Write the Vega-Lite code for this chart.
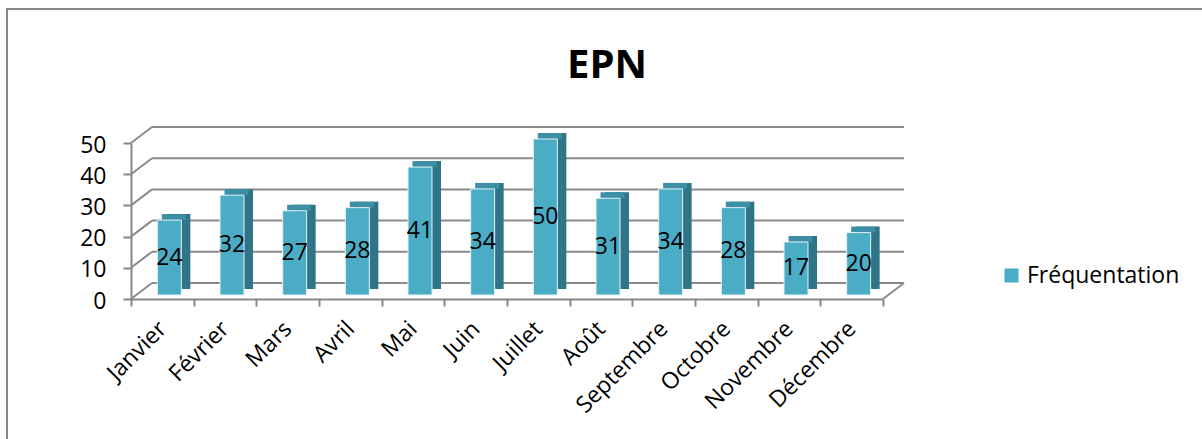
{
  "$schema": "https://vega.github.io/schema/vega-lite/v6.json",
  "width": 1200,
  "height": 435,
  "autosize": "none",
  "padding": {"left": 7, "top": 9, "right": 0, "bottom": 0},
  "background": "white",
  "config": {"view": {"stroke": "#878787", "strokeWidth": 2}, "font": "Open Sans"},
  "title": {"text": "EPN", "fontSize": 40, "fontWeight": "bold", "font": "Open Sans", "color": "#000000", "anchor": "middle", "frame": "group", "baseline": "alphabetic", "offset": -109},
  "data": {"values": [
    {"mois": "Janvier", "valeur": 24},
    {"mois": "Février", "valeur": 32},
    {"mois": "Mars", "valeur": 27},
    {"mois": "Avril", "valeur": 28},
    {"mois": "Mai", "valeur": 41},
    {"mois": "Juin", "valeur": 34},
    {"mois": "Juillet", "valeur": 50},
    {"mois": "Août", "valeur": 31},
    {"mois": "Septembre", "valeur": 34},
    {"mois": "Octobre", "valeur": 28},
    {"mois": "Novembre", "valeur": 17},
    {"mois": "Décembre", "valeur": 20}
  ]},
  "layer": [
    {
      "data": {"values": [{"g": 0}, {"g": 10}, {"g": 20}, {"g": 30}, {"g": 40}, {"g": 50}]},
      "mark": {"type": "rule", "color": "#8a8a8a", "strokeWidth": 2, "xOffset": 21, "x2Offset": 21, "yOffset": -16},
      "encoding": {
        "x": {"datum": "Janvier", "type": "nominal", "bandPosition": 0, "scale": {"domain": ["Janvier","Février","Mars","Avril","Mai","Juin","Juillet","Août","Septembre","Octobre","Novembre","Décembre"], "range": [124, 876], "paddingInner": 0, "paddingOuter": 0}},
        "x2": {"datum": "Décembre", "bandPosition": 1},
        "y": {"field": "g", "type": "quantitative", "scale": {"domain": [0, 50], "range": [290, 134]}, "axis": null}
      }
    },
    {
      "data": {"values": [{"g": 0}, {"g": 10}, {"g": 20}, {"g": 30}, {"g": 40}, {"g": 50}]},
      "mark": {"type": "rule", "color": "#8a8a8a", "strokeWidth": 2, "x2Offset": 21, "y2Offset": -16},
      "encoding": {
        "x": {"datum": "Janvier", "type": "nominal", "bandPosition": 0},
        "x2": {"datum": "Janvier", "bandPosition": 0},
        "y": {"field": "g", "type": "quantitative", "scale": {"domain": [0, 50], "range": [290, 134]}, "axis": null},
        "y2": {"field": "g"}
      }
    },
    {
      "data": {"values": [{"g": 0}]},
      "mark": {"type": "rule", "color": "#8a8a8a", "strokeWidth": 2, "x2Offset": 21, "y2Offset": -16},
      "encoding": {
        "x": {"datum": "Décembre", "type": "nominal", "bandPosition": 1},
        "x2": {"datum": "Décembre", "bandPosition": 1},
        "y": {"field": "g", "type": "quantitative", "scale": {"domain": [0, 50], "range": [290, 134]}, "axis": null},
        "y2": {"field": "g"}
      }
    },
    {
      "mark": {"type": "bar", "color": "#2F7487", "width": 24, "xOffset": 16, "yOffset": -10, "y2Offset": -10},
      "encoding": {
        "x": {"field": "mois", "type": "nominal"},
        "y": {"field": "valeur", "type": "quantitative", "scale": {"domain": [0, 50], "range": [290, 134]}, "axis": null},
        "y2": {"datum": 0}
      }
    },
    {
      "mark": {"type": "bar", "color": "#3D8FA5", "width": 24, "xOffset": 11.5, "yOffset": -10, "y2Offset": -4},
      "encoding": {
        "x": {"field": "mois", "type": "nominal"},
        "y": {"field": "valeur", "type": "quantitative", "scale": {"domain": [0, 50], "range": [290, 134]}, "axis": null},
        "y2": {"field": "valeur"}
      }
    },
    {
      "mark": {"type": "bar", "width": 24, "xOffset": 7, "yOffset": -4, "y2Offset": -4, "stroke": "#e4f2f6", "strokeWidth": 1},
      "encoding": {
        "x": {"field": "mois", "type": "nominal", "axis": {"title": null, "labelAngle": -45, "labelFontSize": 23, "labelColor": "#000000", "labelFont": "Open Sans", "domainColor": "#878787", "domainWidth": 2, "tickColor": "#878787", "tickWidth": 2, "tickSize": 7, "tickBand": "extent", "offset": -145, "labelPadding": 19, "grid": false}},
        "y": {"field": "valeur", "type": "quantitative", "scale": {"domain": [0, 50], "range": [290, 134]}, "axis": {"title": null, "values": [0, 10, 20, 30, 40, 50], "labelFontSize": 23, "labelColor": "#000000", "labelFont": "Open Sans", "domainColor": "#878787", "domainWidth": 2, "tickColor": "#878787", "tickWidth": 2, "tickSize": 8, "offset": -124, "labelPadding": 17, "labelOffset": 2, "grid": false}},
        "y2": {"datum": 0},
        "color": {"datum": "Fréquentation", "type": "nominal", "scale": {"range": ["#4BACC6"]}, "legend": {"orient": "none", "legendX": 993, "legendY": 255, "title": null, "symbolType": "square", "symbolSize": 196, "labelFontSize": 23, "labelFont": "Open Sans", "labelColor": "#000000", "labelOffset": 4, "symbolStrokeWidth": 0, "padding": 0}}
      }
    },
    {
      "mark": {"type": "text", "fontSize": 23, "font": "Open Sans", "color": "#000000", "baseline": "middle", "xOffset": 7, "yOffset": -4},
      "encoding": {
        "x": {"field": "mois", "type": "nominal"},
        "y": {"field": "valeur", "type": "quantitative", "scale": {"domain": [0, 100], "range": [290, 134]}, "axis": null},
        "text": {"field": "valeur", "type": "quantitative"}
      }
    }
  ],
  "resolve": {"scale": {"y": "independent"}}
}
